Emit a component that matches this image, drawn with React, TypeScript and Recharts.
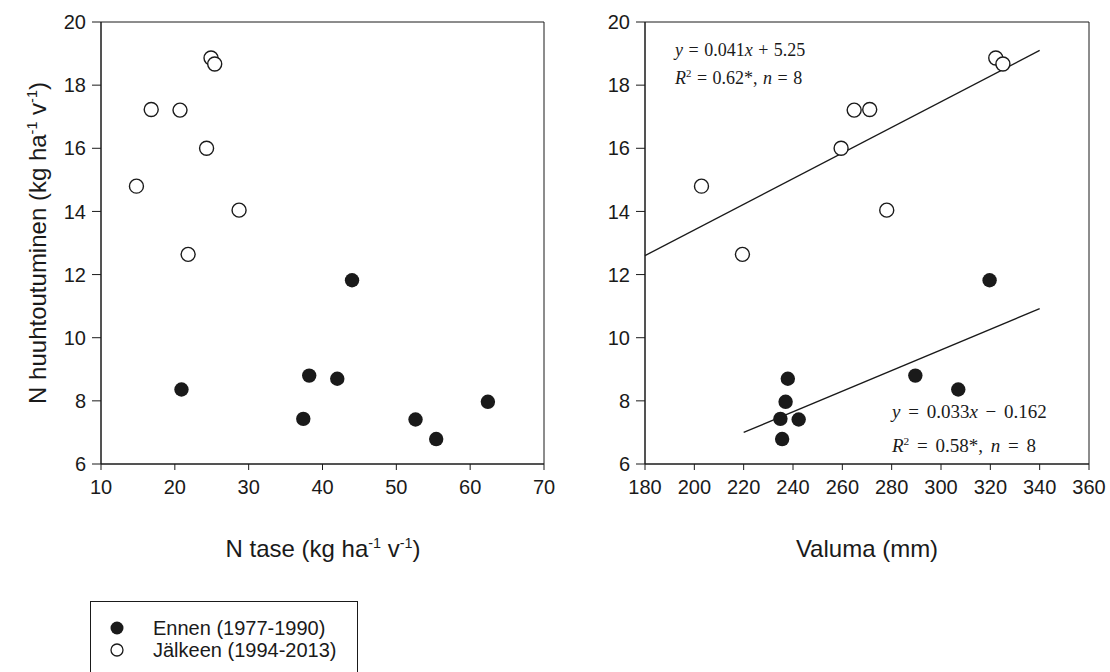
import {
  ReferenceArea,
  ReferenceLine,
  Scatter,
  ScatterChart,
  XAxis,
  YAxis,
} from "recharts";

// Ennen (1977-1990), filled markers
const huuhtoutuminenEnnen = [8.36, 8.8, 8.7, 7.43, 7.41, 6.79, 7.97, 11.82];
const taseEnnen = [20.9, 38.2, 42.0, 37.4, 52.6, 55.4, 62.4, 44.0];
const valumaEnnen = [307.0, 289.6, 237.9, 234.9, 242.3, 235.6, 237.0, 319.7];

// Jälkeen (1994-2013), open markers
const huuhtoutuminenJalkeen = [18.86, 18.67, 17.23, 17.21, 16.0, 14.8, 14.04, 12.64];
const taseJalkeen = [24.9, 25.4, 16.8, 20.7, 24.3, 14.8, 28.7, 21.8];
const valumaJalkeen = [322.2, 325.1, 271.1, 264.8, 259.5, 202.9, 278.0, 219.5];

const yTicks = [6, 8, 10, 12, 14, 16, 18, 20];
const taseTicks = [10, 20, 30, 40, 50, 60, 70];
const valumaTicks = [180, 200, 220, 240, 260, 280, 300, 320, 340, 360];

// regression lines (end points)
const fitJalkeen = [
  { x: 180, y: 12.6 },
  { x: 340, y: 19.1 },
];
const fitEnnen = [
  { x: 220, y: 7.0 },
  { x: 340, y: 10.92 },
];

const pairs = (xs: number[], ys: number[]) => xs.map((x, i) => ({ x, y: ys[i] }));

const sans = "'Liberation Sans', Arial, sans-serif";
const serif = "'Liberation Serif', 'Times New Roman', serif";
const ink = "#1a1a1a";

const FilledDot = (p: any) => <circle cx={p.cx} cy={p.cy} r={7.2} fill={ink} />;
const OpenDot = (p: any) => (
  <circle cx={p.cx} cy={p.cy} r={7} fill="#fff" stroke={ink} strokeWidth={1.4} />
);

const tickStyle = { fill: ink, fontSize: 20, fontFamily: sans };
const supStyle = { fontSize: "0.6em", lineHeight: 0 };

function Unit() {
  return (
    <>
      (kg ha<sup style={supStyle}>-1</sup> v<sup style={supStyle}>-1</sup>)
    </>
  );
}

function App() {
  return (
    <div
      style={{
        position: "absolute",
        left: 0,
        top: 0,
        width: 1110,
        height: 672,
        overflow: "hidden",
        background: "#fff",
        fontFamily: sans,
        color: ink,
      }}
    >
      <div style={{ position: "absolute", left: 0, top: 0 }}>
        <ScatterChart width={560} height={520} margin={{ top: 22, right: 16, bottom: 26, left: 41 }}>
          <XAxis
            type="number"
            dataKey="x"
            domain={[10, 70]}
            ticks={taseTicks}
            interval={0}
            height={30}
            tickSize={6}
            tickMargin={10}
            stroke={ink}
            tick={tickStyle}
          />
          <YAxis
            type="number"
            dataKey="y"
            domain={[6, 20]}
            ticks={yTicks}
            interval={0}
            width={60}
            tickSize={9}
            tickMargin={6}
            stroke={ink}
            tick={tickStyle}
          />
          <ReferenceArea x1={10} x2={70} y1={6} y2={20} fill="none" stroke={ink} />
          <Scatter
            name="Ennen (1977-1990)"
            data={pairs(taseEnnen, huuhtoutuminenEnnen)}
            shape={FilledDot}
            isAnimationActive={false}
          />
          <Scatter
            name="Jälkeen (1994-2013)"
            data={pairs(taseJalkeen, huuhtoutuminenJalkeen)}
            shape={OpenDot}
            isAnimationActive={false}
          />
        </ScatterChart>
      </div>

      <div style={{ position: "absolute", left: 560, top: 0 }}>
        <ScatterChart width={550} height={520} margin={{ top: 22, right: 21, bottom: 26, left: 25 }}>
          <XAxis
            type="number"
            dataKey="x"
            domain={[180, 360]}
            ticks={valumaTicks}
            interval={0}
            height={30}
            tickSize={6}
            tickMargin={10}
            stroke={ink}
            tick={tickStyle}
          />
          <YAxis
            type="number"
            dataKey="y"
            domain={[6, 20]}
            ticks={yTicks}
            interval={0}
            width={60}
            tickSize={9}
            tickMargin={6}
            stroke={ink}
            tick={tickStyle}
          />
          <ReferenceArea x1={180} x2={360} y1={6} y2={20} fill="none" stroke={ink} />
          <ReferenceLine segment={fitJalkeen} stroke={ink} strokeWidth={1.3} />
          <ReferenceLine segment={fitEnnen} stroke={ink} strokeWidth={1.3} />
          <Scatter
            name="Ennen (1977-1990)"
            data={pairs(valumaEnnen, huuhtoutuminenEnnen)}
            shape={FilledDot}
            isAnimationActive={false}
          />
          <Scatter
            name="Jälkeen (1994-2013)"
            data={pairs(valumaJalkeen, huuhtoutuminenJalkeen)}
            shape={OpenDot}
            isAnimationActive={false}
          />
        </ScatterChart>
      </div>

      {/* axis titles */}
      <div
        style={{
          position: "absolute",
          left: 38,
          top: 243,
          transform: "translate(-50%, -50%) rotate(-90deg)",
          whiteSpace: "nowrap",
          fontSize: 24,
        }}
      >
        N huuhtoutuminen <Unit />
      </div>
      <div
        style={{
          position: "absolute",
          left: 323,
          top: 549,
          transform: "translate(-50%, -50%)",
          whiteSpace: "nowrap",
          fontSize: 24,
        }}
      >
        N tase <Unit />
      </div>
      <div
        style={{
          position: "absolute",
          left: 867,
          top: 549,
          transform: "translate(-50%, -50%)",
          whiteSpace: "nowrap",
          fontSize: 24,
        }}
      >
        Valuma (mm)
      </div>

      {/* regression equations */}
      <div
        style={{
          position: "absolute",
          left: 675,
          top: 36,
          fontFamily: serif,
          fontSize: 18,
          lineHeight: "28px",
          whiteSpace: "nowrap",
          wordSpacing: 1,
        }}
      >
        <div>
          <i>y</i> = 0.041<i>x</i> + 5.25
        </div>
        <div>
          <i>R</i>
          <sup style={supStyle}>2</sup> = 0.62*, <i>n</i> = 8
        </div>
      </div>
      <div
        style={{
          position: "absolute",
          left: 892,
          top: 395,
          fontFamily: serif,
          fontSize: 19,
          lineHeight: "34px",
          whiteSpace: "nowrap",
          wordSpacing: 3,
        }}
      >
        <div>
          <i>y</i> = 0.033<i>x</i> − 0.162
        </div>
        <div>
          <i>R</i>
          <sup style={supStyle}>2</sup> = 0.58*, <i>n</i> = 8
        </div>
      </div>

      {/* legend */}
      <div
        style={{
          position: "absolute",
          left: 90,
          top: 601,
          width: 266,
          height: 90,
          border: `1.5px solid ${ink}`,
          fontSize: 20,
        }}
      >
        {[
          { label: "Ennen (1977-1990)", filled: true },
          { label: "Jälkeen (1994-2013)", filled: false },
        ].map((row, i) => (
          <div
            key={row.label}
            style={{ position: "absolute", left: 0, top: 15 + i * 22, height: 22, display: "flex", alignItems: "center" }}
          >
            <svg width={62} height={22}>
              <circle
                cx={26}
                cy={11}
                r={row.filled ? 6.5 : 6}
                fill={row.filled ? ink : "#fff"}
                stroke={ink}
                strokeWidth={row.filled ? 0 : 1.3}
              />
            </svg>
            <span>{row.label}</span>
          </div>
        ))}
      </div>
    </div>
  );
}

export default App;
